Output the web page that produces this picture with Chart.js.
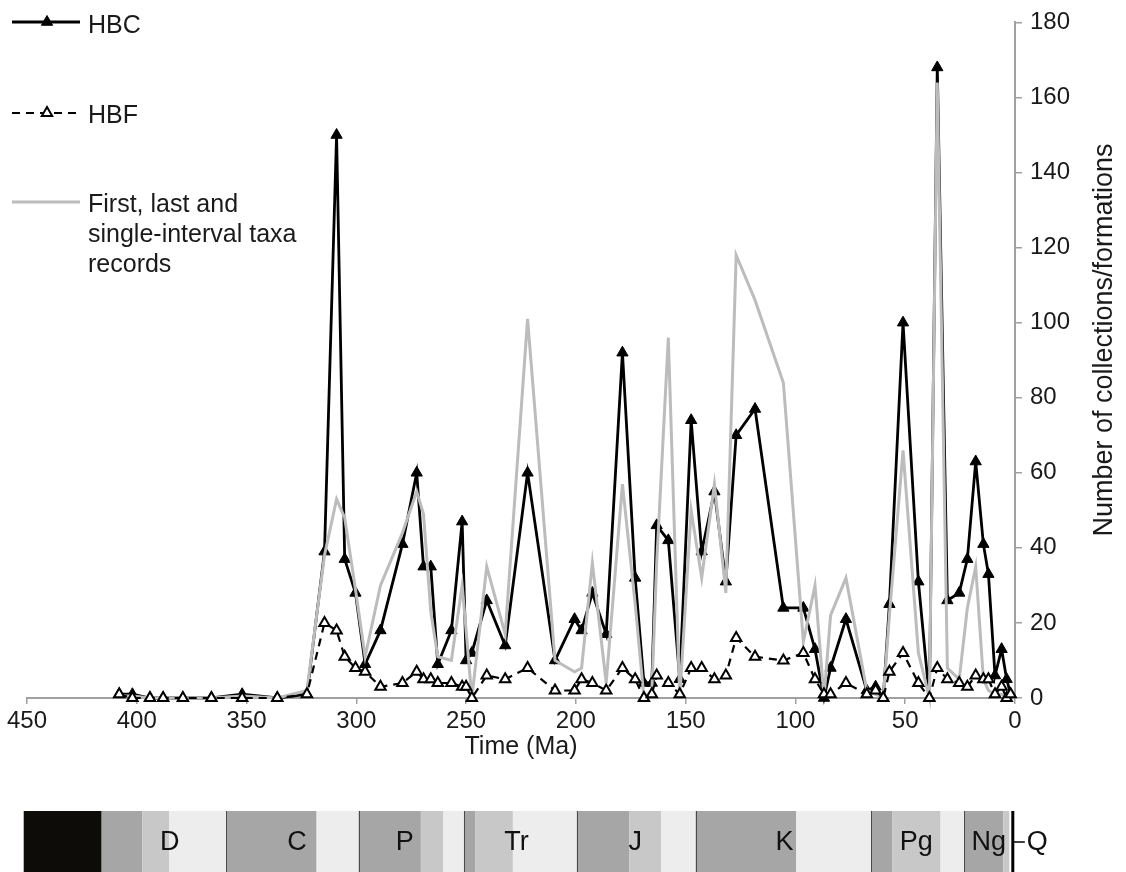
<!DOCTYPE html>
<html>
<head>
<meta charset="utf-8">
<script src="https://cdn.jsdelivr.net/npm/chart.js@4.4.1/dist/chart.umd.min.js"></script>
<style>
  html, body { margin: 0; padding: 0; background: #fff; }
</style>
</head>
<body>
<canvas id="taxaChart" width="1126" height="872"></canvas>
<script>
// time bins (Ma) shared by the three series
const ages = [408, 402, 394, 388, 379, 366, 352, 336, 322.5, 314.5,
  309, 305.3, 300.4, 296, 289, 279, 272.5, 269.4, 266.1, 262.9,
  256.7, 251.8, 250, 247.4, 240.6, 232.2, 222, 209.5, 200.6, 197.4,
  192.5, 186.2, 178.8, 173, 169, 165.4, 163.2, 157.9, 152.7, 147.5,
  142.7, 136.9, 131.7, 127, 118.4, 105.5, 96.4, 91.1, 87, 84,
  77, 67.5, 63.5, 60, 57.2, 51, 44, 39, 35.4, 30.8,
  25.4, 21.7, 17.9, 14.4, 12.1, 9.1, 6.1, 3.8, 2];

const hbc = [1, 1, 0, 0, 0, 0, 1, 0, 1, 39,
  150, 37, 28, 9, 18, 41, 60, 35, 35, 9,
  18, 47, 10, 12, 26, 14, 60, 10, 21, 18,
  28, 17, 92, 32, 4, 4, 46, 42, 5, 74,
  39, 55, 31, 70, 77, 24, 24, 13, 0, 8,
  21, 2, 3, 0, 25, 100, 31, 0, 168, 26,
  28, 37, 63, 41, 33, 6, 13, 5, 1];

const hbf = [1, 0, 0, 0, 0, 0, 0, 0, 1, 20,
  18, 11, 8, 7, 3, 4, 7, 5, 5, 4,
  4, 3, 3, 0, 6, 5, 8, 2, 2, 5,
  4, 2, 8, 5, 0, 1, 6, 4, 1, 8,
  8, 5, 6, 16, 11, 10, 12, 5, 1, 1,
  4, 1, 2, 0, 7, 12, 4, 0, 8, 5,
  4, 3, 6, 5, 5, 1, 3, 0, 1];

const firstLast = [0.5, 0.5, 0, 0, 0, 0, 0.5, 0, 2, 38,
  53, 48, 29, 11, 30, 44, 55, 49, 23, 11,
  10, 30, 18, 0, 35, 17, 101, 10, 7, 8,
  36, 4, 57, 25, 0, 2, 36, 96, 0, 50,
  32, 57, 28, 118, 106, 84, 15, 30, 0, 22,
  32, 2, 1, 0, 22, 66, 12, 0, 164, 8,
  5, 24, 35, 5, 2, 1, 1, 0, 0];

// geological time scale bands (Ma)
const bandFrom = [451.5, 416, 397.5, 385.3, 359.2, 318.1, 299, 270.6, 260.4, 251,
  245.9, 228.7, 199.6, 175.6, 161.2, 145.5, 99.6, 65.5, 55.8, 33.9, 23.03, 5.332];
const bandTo = [416, 397.5, 385.3, 359.2, 318.1, 299, 270.6, 260.4, 251, 245.9,
  228.7, 199.6, 175.6, 161.2, 145.5, 99.6, 65.5, 55.8, 33.9, 23.03, 5.332, 2.588];
const bandShade = [0, 1, 2, 3, 1, 3, 1, 2, 3, 1,
  2, 3, 1, 2, 3, 1, 3, 1, 2, 3, 1, 2];
const shadeColors = ["#0e0c09", "#a6a6a6", "#c8c8c8", "#ededed"];
const periodEdges = [359.2, 299, 251, 199.6, 145.5, 65.5, 23.03];
const periodNames = ["D", "C", "P", "Tr", "J", "K", "Pg", "Ng"];
const periodLabelAt = [385, 327, 278, 227, 173, 105, 45, 12];

const FONT = "'Liberation Sans', Arial, sans-serif";
Chart.defaults.font.family = FONT;
Chart.defaults.color = "#1a1a1a";

const toPoints = vals => ages.map((a, i) => ({ x: a, y: vals[i] }));

const legendPlugin = {
  id: "sideLegend",
  afterDraw(chart) {
    const ctx = chart.ctx;
    ctx.save();
    ctx.lineCap = "butt";
    // HBC
    ctx.strokeStyle = "#000";
    ctx.fillStyle = "#000";
    ctx.lineWidth = 2.8;
    ctx.beginPath(); ctx.moveTo(12, 22); ctx.lineTo(80, 22); ctx.stroke();
    ctx.lineWidth = 1;
    Chart.helpers.drawPoint(ctx, { pointStyle: "triangle", radius: 6.5, borderWidth: 1 }, 47, 22);
    // HBF
    ctx.lineWidth = 2.2;
    ctx.setLineDash([8, 6]);
    ctx.beginPath(); ctx.moveTo(12, 113); ctx.lineTo(80, 113); ctx.stroke();
    ctx.setLineDash([]);
    ctx.fillStyle = "#fff";
    ctx.lineWidth = 2;
    Chart.helpers.drawPoint(ctx, { pointStyle: "triangle", radius: 6, borderWidth: 2 }, 47, 113);
    // first/last records
    ctx.strokeStyle = "#bcbcbc";
    ctx.lineWidth = 3;
    ctx.beginPath(); ctx.moveTo(12, 202); ctx.lineTo(80, 202); ctx.stroke();

    ctx.fillStyle = "#1a1a1a";
    ctx.font = "25px " + FONT;
    ctx.textAlign = "left";
    ctx.textBaseline = "alphabetic";
    ctx.fillText("HBC", 88, 33);
    ctx.fillText("HBF", 88, 123);
    ctx.fillText("First, last and", 88, 212);
    ctx.fillText("single-interval taxa", 88, 242);
    ctx.fillText("records", 88, 272);

    // right axis title, reading bottom to top
    ctx.translate(1105, 340);
    ctx.rotate(-Math.PI / 2);
    ctx.textAlign = "center";
    ctx.textBaseline = "middle";
    ctx.font = "27px " + FONT;
    ctx.fillText("Number of collections/formations", 0, 0);
    ctx.restore();
  }
};

const timescalePlugin = {
  id: "timescale",
  afterDraw(chart) {
    const ctx = chart.ctx;
    const xs = chart.scales.x;
    const top = 811, bottom = 872;
    ctx.save();
    bandFrom.forEach((from, i) => {
      const x0 = xs.getPixelForValue(from);
      const x1 = xs.getPixelForValue(bandTo[i]);
      ctx.fillStyle = shadeColors[bandShade[i]];
      ctx.fillRect(x0, top, x1 - x0, bottom - top);
    });
    ctx.strokeStyle = "#4a4a4a";
    ctx.lineWidth = 1;
    periodEdges.forEach(age => {
      const x = Math.round(xs.getPixelForValue(age)) + 0.5;
      ctx.beginPath(); ctx.moveTo(x, top); ctx.lineTo(x, bottom); ctx.stroke();
    });
    // Quaternary bracket
    const qx = xs.getPixelForValue(1);
    ctx.strokeStyle = "#000";
    ctx.lineWidth = 3;
    ctx.beginPath(); ctx.moveTo(qx, top); ctx.lineTo(qx, bottom); ctx.stroke();
    ctx.lineWidth = 1.5;
    ctx.beginPath(); ctx.moveTo(qx, 842); ctx.lineTo(qx + 12, 842); ctx.stroke();

    ctx.fillStyle = "#111";
    ctx.font = "27px " + FONT;
    ctx.textAlign = "center";
    ctx.textBaseline = "middle";
    periodNames.forEach((name, i) => {
      ctx.fillText(name, xs.getPixelForValue(periodLabelAt[i]), 843);
    });
    ctx.textAlign = "left";
    ctx.fillText("Q", qx + 14, 843);
    ctx.restore();
  }
};

const ctx = document.getElementById("taxaChart");

const taxaChart = new Chart(ctx, {
  type: "line",
  data: {
    datasets: [
      {
        label: "HBF",
        data: toPoints(hbf),
        borderColor: "#000",
        borderWidth: 2.2,
        borderDash: [8, 6],
        pointStyle: "triangle",
        pointRadius: 6,
        pointBackgroundColor: "#fff",
        pointBorderColor: "#000",
        pointBorderWidth: 2,
        clip: false
      },
      {
        label: "First, last and single-interval taxa records",
        data: toPoints(firstLast),
        borderColor: "#bcbcbc",
        borderWidth: 3,
        pointRadius: 0,
        clip: false
      },
      {
        label: "HBC",
        data: toPoints(hbc),
        borderColor: "#000",
        borderWidth: 2.8,
        pointStyle: "triangle",
        pointRadius: 6.5,
        pointBackgroundColor: "#000",
        pointBorderColor: "#000",
        pointBorderWidth: 1,
        clip: false
      }
    ]
  },
  options: {
    responsive: false,
    animation: false,
    devicePixelRatio: 1,
    layout: {
      padding: { left: 27, right: 0, top: 19, bottom: 110 }
    },
    plugins: {
      legend: { display: false },
      tooltip: { enabled: false }
    },
    scales: {
      x: {
        type: "linear",
        reverse: true,
        min: 0,
        max: 450,
        afterFit: scale => { scale.height = 64; },
        ticks: {
          stepSize: 50,
          maxRotation: 0,
          padding: 3,
          color: "#1a1a1a",
          font: { size: 24 }
        },
        grid: {
          drawOnChartArea: false,
          tickLength: 6,
          color: "#a0a0a0",
          lineWidth: 1.5
        },
        border: { color: "#a0a0a0", width: 2 },
        title: {
          display: true,
          text: "Time (Ma)",
          color: "#1a1a1a",
          font: { size: 25 },
          padding: { top: 0, bottom: 0 }
        }
      },
      y: {
        position: "right",
        min: 0,
        max: 180,
        afterFit: scale => { scale.width = 111; },
        ticks: {
          stepSize: 20,
          padding: 8,
          color: "#1a1a1a",
          font: { size: 24 }
        },
        grid: {
          drawOnChartArea: false,
          tickLength: 7,
          color: "#a0a0a0",
          lineWidth: 1.5
        },
        border: { color: "#a0a0a0", width: 2 }
      }
    }
  },
  plugins: [legendPlugin, timescalePlugin]
});
</script>
</body>
</html>
